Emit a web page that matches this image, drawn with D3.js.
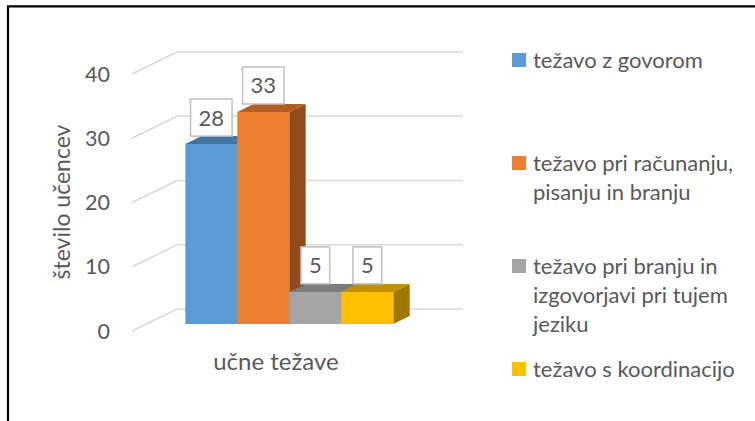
<!DOCTYPE html>
<html>
<meta charset="utf-8">
<style>
body { margin: 0; background: #fff; }
text { font-family: Lato, "Open Sans", sans-serif; fill: #595959; }
</style>
<body>
<svg id="chart" width="755" height="421"></svg>
<script src="https://d3js.org/d3.v7.min.js"></script>
<script>
// data
var series = ["težavo z govorom", "težavo pri računanju, pisanju in branju",
              "težavo pri branju in izgovorjavi pri tujem jeziku", "težavo s koordinacijo"];
var values = [28, 33, 5, 5];
var colors = ["#5B9BD5", "#ED7D31", "#A5A5A5", "#FFC000"];
var yTicks = [0, 10, 20, 30, 40];
var yTitle = "število učencev";
var category = "učne težave";
var legendLines = [
  ["težavo z govorom"],
  ["težavo pri računanju,", "pisanju in branju"],
  ["težavo pri branju in", "izgovorjavi pri tujem", "jeziku"],
  ["težavo s koordinacijo"]
];

var svg = d3.select("#chart");

// frame (only left and top edges show)
svg.append("path").attr("d", "M8,421V6.3H755")
  .attr("fill", "none").attr("stroke", "#000").attr("stroke-width", 2.2);

// 3d projection: depth 0 = front edge, 1 = back wall
var depthX = 45, depthY = -22;
var y = d3.scaleLinear().domain([0, 40]).range([331, 74]);
var x = d3.scaleBand().domain(series).range([171, 379]).padding(0);
function proj(px, v, d) { return [px + d * depthX, y(v) + d * depthY]; }

// gridlines: floor diagonal + back wall
var wallRight = 463;
var grid = svg.append("g");
yTicks.forEach(function(t) {
  var a = proj(132, t, 0), b = proj(132, t, 1);
  grid.append("path")
    .attr("d", "M" + a + "L" + b + "H" + wallRight)
    .attr("fill", "none").attr("stroke", "#d9d9d9").attr("stroke-width", 1.5);
});

// tick labels
svg.append("g").selectAll("text").data(yTicks).join("text")
  .attr("x", 110).attr("y", function(d) { return y(d); })
  .attr("dy", "0.36em").attr("text-anchor", "end")
  .style("font-size", "21.5px")
  .text(function(d) { return d; });

// axis title
svg.append("text")
  .attr("transform", "translate(62,202) rotate(-90)")
  .attr("text-anchor", "middle").attr("dy", "0.36em")
  .style("font-size", "23px").text(yTitle);

// category label
svg.append("text").attr("x", 276).attr("y", 370)
  .attr("text-anchor", "middle").style("font-size", "24px").text(category);

// bars
var d0 = 7 / 22, d1 = 15 / 22;
var bars = svg.append("g");
series.forEach(function(s, i) {
  var v = values[i], x0 = x(s), x1 = x0 + x.bandwidth();
  var c = d3.color(colors[i]);
  var g = bars.append("g");
  g.append("polygon")
    .attr("points", [proj(x1, v, d0), proj(x1, v, d1), proj(x1, 0, d1), proj(x1, 0, d0)].join(" "))
    .attr("fill", c.darker(1.35));
  g.append("polygon")
    .attr("points", [proj(x0, 0, d0), proj(x0, v, d0), proj(x1, v, d0), proj(x1, 0, d0)].join(" "))
    .attr("fill", c);
  g.append("polygon")
    .attr("points", [proj(x0, v, d0), proj(x0, v, d1), proj(x1, v, d1), proj(x1, v, d0)].join(" "))
    .attr("fill", c.darker(0.8));
});

// data labels
var labels = svg.append("g");
series.forEach(function(s, i) {
  var v = values[i];
  var cx = proj(x(s) + x.bandwidth() / 2, v, d0)[0];
  var bottom = proj(0, v, d1)[1];
  var g = labels.append("g");
  var box = g.append("rect");
  var t = g.append("text").attr("x", cx).attr("y", bottom - 18.5)
    .attr("dy", "0.36em").attr("text-anchor", "middle")
    .style("font-size", "22px").text(v);
  var w = t.node().getComputedTextLength() + 16;
  box.attr("x", cx - w / 2).attr("y", bottom - 37).attr("width", w).attr("height", 37)
    .attr("fill", "#fff").attr("stroke", "#bfbfbf").attr("stroke-width", 1.5);
});

// legend
var legendTop = 46, slotH = 103, lineH = 29;
var legend = svg.append("g");
legendLines.forEach(function(lines, i) {
  var top = legendTop + i * slotH;
  legend.append("rect").attr("x", 512).attr("y", top + 14 - 7)
    .attr("width", 14).attr("height", 14).attr("fill", colors[i]);
  lines.forEach(function(l, j) {
    legend.append("text").attr("x", 533).attr("y", top + 14 + j * lineH)
      .attr("dy", "0.36em").style("font-size", "22px").text(l);
  });
});
</script>
</body>
</html>
